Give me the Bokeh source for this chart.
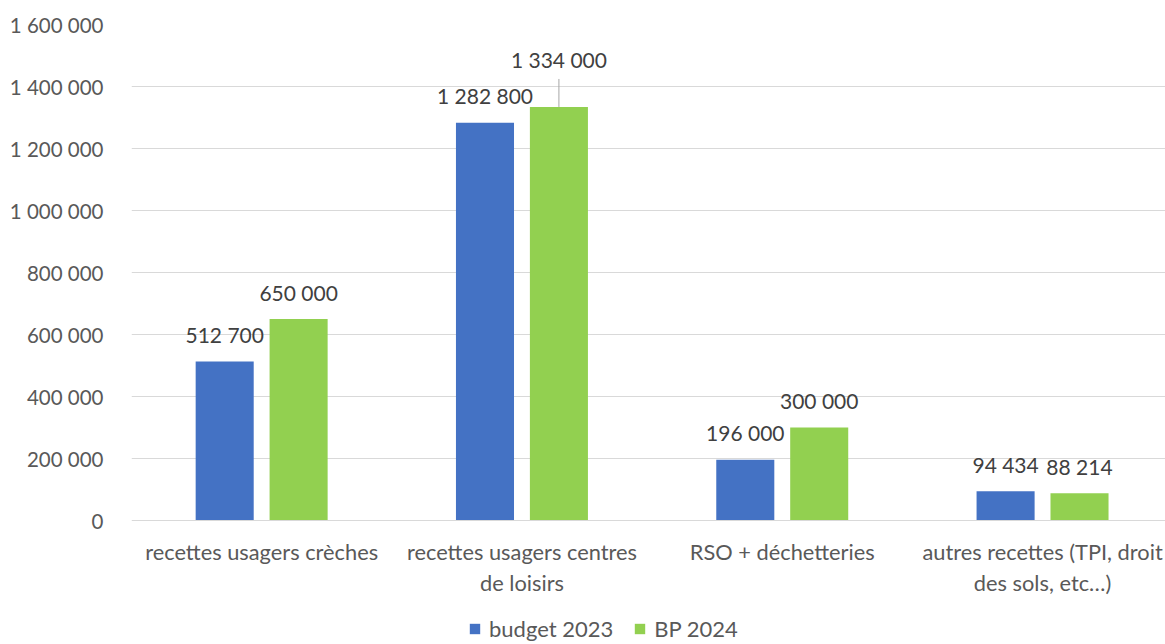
from bokeh.plotting import figure
from bokeh.models import Range1d, FixedTicker, Legend, LegendItem, ColumnDataSource
from bokeh.core.properties import value
from bokeh.embed import file_html
from bokeh.resources import INLINE

categories = ["recettes usagers crèches", "recettes usagers centres\nde loisirs",
              "RSO + déchetteries", "autres recettes (TPI, droit\ndes sols, etc…)"]
budget_2023 = [512700, 1282800, 196000, 94434]
bp_2024 = [650000, 1334000, 300000, 88214]
series_names = ["budget 2023", "BP 2024"]
y_ticks = [0, 200000, 400000, 600000, 800000, 1000000, 1200000, 1400000, 1600000]

FONT = "Lato"
BLUE = "#4472C4"
GREEN = "#92D050"

def fmt(v):
    return f"{v:,}".replace(",", " ")

xc = [i + 0.5 for i in range(len(categories))]
off = 0.142
bw = 0.223

W, H = 1165, 642
left_px, top_px = 131, 24
cat_px = 260.3
x_end = (W - left_px) / cat_px

ymax = y_ticks[-1]
plot_px = 496
px_per_unit = ymax / plot_px
below_px = H - top_px - plot_px

p = figure(width=W, height=H, output_backend="svg", toolbar_location=None,
           x_range=Range1d(0, x_end), y_range=Range1d(-below_px * px_per_unit, ymax),
           min_border_left=left_px, min_border_right=0, min_border_top=top_px, min_border_bottom=0)
p.outline_line_color = None
p.background_fill_color = "white"

src1 = ColumnDataSource(dict(x=[x - off for x in xc], top=budget_2023, lab=[fmt(v) for v in budget_2023]))
src2 = ColumnDataSource(dict(x=[x + off for x in xc], top=bp_2024, lab=[fmt(v) for v in bp_2024]))

r1 = p.vbar(x="x", top="top", width=bw, source=src1, fill_color=BLUE, line_color=None)
r2 = p.vbar(x="x", top="top", width=bw, source=src2, fill_color=GREEN, line_color=None)

# baseline (category axis line)
p.segment(x0=[0], y0=[0], x1=[x_end], y1=[0], line_color="#D9D9D9", line_width=1)

LBL = "21px"
p.text(x="x", y="top", text="lab", source=src1, text_align="center", text_baseline="middle",
       y_offset=-27, text_font=value(FONT), text_font_size=LBL, text_color="#404040")

norm_idx = [i for i, v in enumerate(bp_2024) if v != max(bp_2024)]
big_idx = bp_2024.index(max(bp_2024))
src2n = ColumnDataSource(dict(x=[xc[i] + off for i in norm_idx], top=[bp_2024[i] for i in norm_idx],
                              lab=[fmt(bp_2024[i]) for i in norm_idx]))
p.text(x="x", y="top", text="lab", source=src2n, text_align="center", text_baseline="middle",
       y_offset=-27, text_font=value(FONT), text_font_size=LBL, text_color="#404040")
src2b = ColumnDataSource(dict(x=[xc[big_idx] + off], top=[bp_2024[big_idx]], lab=[fmt(bp_2024[big_idx])]))
p.text(x="x", y="top", text="lab", source=src2b, text_align="center", text_baseline="middle",
       y_offset=-47, text_font=value(FONT), text_font_size=LBL, text_color="#404040")
p.segment(x0=[xc[big_idx] + off], y0=[bp_2024[big_idx]], x1=[xc[big_idx] + off],
          y1=[bp_2024[big_idx] + 28 * px_per_unit], line_color="#A6A6A6", line_width=1)

# category labels
cat_src = ColumnDataSource(dict(x=xc, y=[0] * len(xc), lab=categories))
p.text(x="x", y="y", text="lab", source=cat_src, text_align="center", text_baseline="top",
       y_offset=17, text_font=value(FONT), text_font_size="21.8px", text_color="#595959",
       text_line_height=1.18)

# axes
p.xaxis.visible = False
p.yaxis.ticker = FixedTicker(ticks=y_ticks)
p.yaxis.major_label_overrides = {t: fmt(t) for t in y_ticks}
p.yaxis.axis_line_color = None
p.yaxis.major_tick_line_color = None
p.yaxis.minor_tick_line_color = None
p.yaxis.major_label_standoff = 22
p.yaxis.major_label_text_font = FONT
p.yaxis.major_label_text_font_size = "20.5px"
p.yaxis.major_label_text_color = "#595959"

p.xgrid.grid_line_color = None
p.ygrid.ticker = FixedTicker(ticks=y_ticks[1:])
p.ygrid.grid_line_color = "#D9D9D9"
p.ygrid.grid_line_width = 1

legend = Legend(items=[LegendItem(label=series_names[0], renderers=[r1]),
                       LegendItem(label=series_names[1], renderers=[r2])],
                orientation="horizontal", location=(337, 0),
                label_text_font=FONT, label_text_font_size="22px", label_text_color="#595959",
                glyph_width=13, glyph_height=13, label_standoff=8, spacing=20,
                border_line_color=None, background_fill_alpha=0, margin=0, padding=2)
p.add_layout(legend)

open("out.html", "w").write(file_html(p, INLINE))
